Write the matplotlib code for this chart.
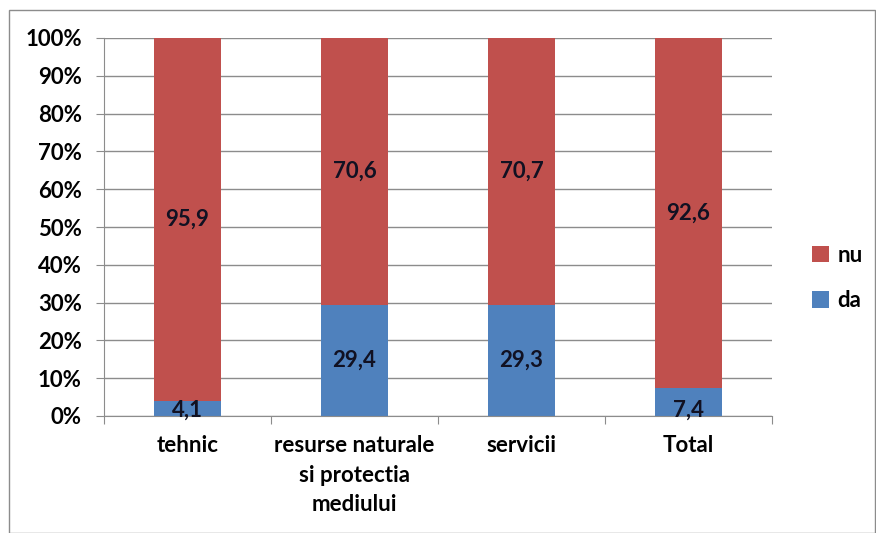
import matplotlib.pyplot as plt
from matplotlib.patches import Rectangle

plt.rcParams['font.family'] = ['Lato', 'DejaVu Sans']

categories = ['tehnic', 'resurse naturale\nsi protectia\nmediului', 'servicii', 'Total']
da = [4.1, 29.4, 29.3, 7.4]
nu = [95.9, 70.6, 70.7, 92.6]
da_labels = ['4,1', '29,4', '29,3', '7,4']
nu_labels = ['95,9', '70,6', '70,7', '92,6']

red = '#C0504D'
blue = '#4F81BD'
fs = 16

fig = plt.figure(figsize=(8.76, 5.33), dpi=100)
ax = fig.add_axes([104 / 876, 1 - 416 / 533, 668 / 876, 378 / 533])

x = list(range(len(categories)))
b1 = ax.bar(x, da, width=0.4, color=blue, label='da', zorder=2)
b2 = ax.bar(x, nu, width=0.4, bottom=da, color=red, label='nu', zorder=2)

for i in x:
    ax.text(i, da[i] / 2 if da[i] > 10 else 1.6, da_labels[i], ha='center', va='center',
            fontsize=fs, fontweight='bold', color='#111122', zorder=3)
    ax.text(i, da[i] + nu[i] / 2, nu_labels[i], ha='center', va='center',
            fontsize=fs, fontweight='bold', color='#111122', zorder=3)

ax.set_xlim(-0.5, 3.5)
ax.set_ylim(0, 100)
ax.set_yticks(range(0, 101, 10))
ax.set_yticklabels([f'{v}%' for v in range(0, 101, 10)], fontsize=fs, fontweight='bold')
ax.yaxis.grid(True, color='#8C8C8C', linewidth=1, zorder=0)
ax.set_axisbelow(True)

ax.set_xticks([-0.5, 0.5, 1.5, 2.5, 3.5])
ax.set_xticklabels([])
ax.set_xticks(x, minor=True)
ax.set_xticklabels(categories, minor=True, fontsize=fs, fontweight='bold', linespacing=1.5)
ax.tick_params(axis='x', which='minor', length=0, pad=14)
ax.tick_params(axis='x', which='major', length=6, color='#8C8C8C')
ax.tick_params(axis='y', length=6, color='#8C8C8C', pad=10)

for s in ['top', 'right']:
    ax.spines[s].set_visible(False)
for s in ['left', 'bottom']:
    ax.spines[s].set_color('#8C8C8C')

handles = [b2, b1]
fig.legend(handles, ['nu', 'da'], loc='center left', bbox_to_anchor=(792 / 876, 1 - 278 / 533),
           frameon=False, handlelength=0.75, handleheight=0.75,
           handletextpad=0.4, labelspacing=1.1, prop={'weight': 'bold', 'size': fs})

fig.patches.append(Rectangle((9 / 876, 0), 1 - 9 / 876 - 1 / 876, 1 - 10 / 533, transform=fig.transFigure,
                             fill=False, edgecolor='#8C8C8C', linewidth=1))

fig.savefig('out.png', dpi=100)
